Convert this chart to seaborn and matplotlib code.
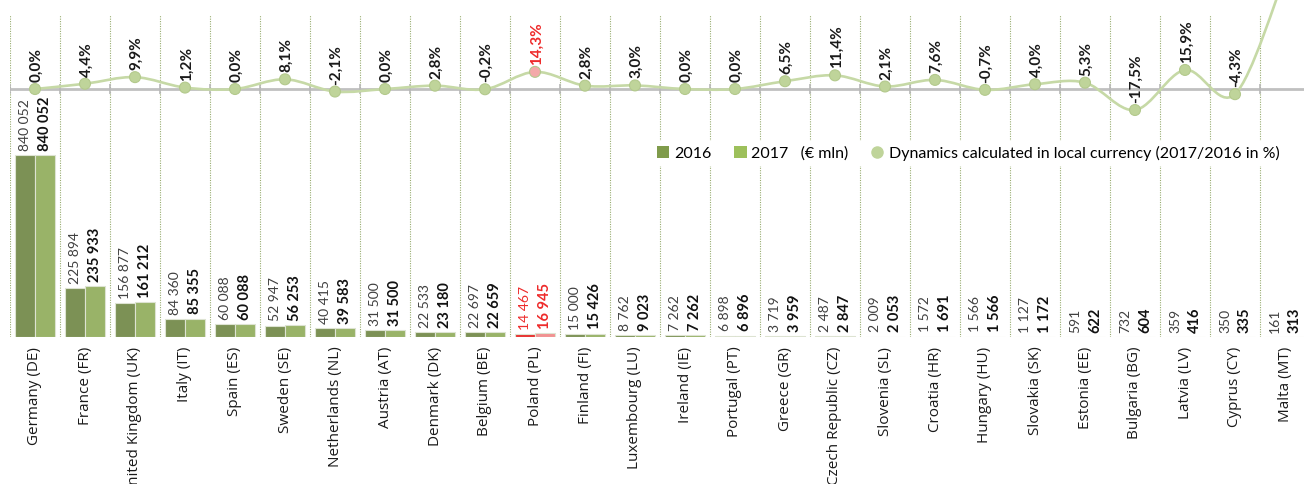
import numpy as np
import pandas as pd
import matplotlib
matplotlib.use("Agg")
import matplotlib.pyplot as plt
import seaborn as sns
from matplotlib.path import Path
from matplotlib.patches import PathPatch, Patch
from matplotlib.lines import Line2D

countries = ["Germany (DE)", "France (FR)", "United Kingdom (UK)", "Italy (IT)", "Spain (ES)",
             "Sweden (SE)", "Netherlands (NL)", "Austria (AT)", "Denmark (DK)", "Belgium (BE)",
             "Poland (PL)", "Finland (FI)", "Luxembourg (LU)", "Ireland (IE)", "Portugal (PT)",
             "Greece (GR)", "Czech Republic (CZ)", "Slovenia (SL)", "Croatia (HR)", "Hungary (HU)",
             "Slovakia (SK)", "Estonia (EE)", "Bulgaria (BG)", "Latvia (LV)", "Cyprus (CY)", "Malta (MT)"]
v2016 = [840052, 225894, 156877, 84360, 60088, 52947, 40415, 31500, 22533, 22697,
         14467, 15000, 8762, 7262, 6898, 3719, 2487, 2009, 1572, 1566,
         1127, 591, 732, 359, 350, 161]
v2017 = [840052, 235933, 161212, 85355, 60088, 56253, 39583, 31500, 23180, 22659,
         16945, 15426, 9023, 7262, 6896, 3959, 2847, 2053, 1691, 1566,
         1172, 622, 604, 416, 335, 313]
dynamics = [0.0, 4.4, 9.9, 1.2, 0.0, 8.1, -2.1, 0.0, 2.8, -0.2,
            14.3, 2.8, 3.0, 0.0, 0.0, 6.5, 11.4, 2.1, 7.6, -0.7,
            4.0, 5.3, -17.5, 15.9, -4.3, 94.4]
years = ["2016", "2017"]
highlight = "Poland (PL)"

C16, C17 = "#7f9b4b", "#9dc05b"
R16, R17 = "#e8302e", "#f29191"
LINE_C, MARK_C = "#c6d9a6", "#bfd49a"
RED_TXT = "#ee2b2b"

W, H = 1304, 484
fig = plt.figure(figsize=(W / 100, H / 100), dpi=100)
ax = fig.add_axes([10 / W, (H - 337) / H, 1300 / W, 322 / H])
ax.set_facecolor("none")

df = pd.DataFrame({"country": countries * 2,
                   "year": [years[0]] * len(countries) + [years[1]] * len(countries),
                   "value": v2016 + v2017})
sns.barplot(data=df, x="country", y="value", hue="year", palette=[C16, C17],
            width=0.8, ax=ax, legend=False, edgecolor="#dde3d2", linewidth=0.8,
            errorbar=None, zorder=2)
ax.set_xlim(-0.5, len(countries) - 0.5)
ax.set_ylim(0, 1486000)

pi = countries.index(highlight)
c0, c1 = ax.containers[0], ax.containers[1]
c0.patches[pi].set_facecolor(R16)
c1.patches[pi].set_facecolor(R17)

fmt = lambda v: f"{v:,}".replace(",", " ")
t16 = ax.bar_label(c0, labels=[fmt(v) for v in v2016], rotation=90, padding=3,
                   fontsize=10, family="Lato", color="#404040")
t17 = ax.bar_label(c1, labels=[fmt(v) for v in v2017], rotation=90, padding=3,
                   fontsize=10.5, family="Lato", fontweight="bold", color="#111111")
t16[pi].set_color(RED_TXT)
t17[pi].set_color(RED_TXT)

for s in ax.spines.values():
    s.set_visible(False)
ax.set_xlabel("")
ax.set_ylabel("")
ax.set_yticks([])
ax.set_xticks(np.arange(-0.5, len(countries), 1), minor=True)
ax.grid(which="minor", axis="x", color="#98ad70", linestyle=(0, (1, 1.2)), linewidth=0.8)
ax.grid(which="major", visible=False)
ax.tick_params(axis="x", which="both", length=0)
ax.tick_params(axis="x", which="major", pad=7)
for lbl in ax.get_xticklabels():
    lbl.set_rotation(90)
    lbl.set_family("Open Sans")
    lbl.set_fontsize(11)
    lbl.set_color("#1a1a1a")
    lbl.set_va("top")
    lbl.set_ha("center")

# secondary axis: dynamics
ax2 = ax.twinx()
ax2.set_ylim(-206.7, 61.7)
ax2.set_yticks([])
for s in ax2.spines.values():
    s.set_visible(False)
ax2.axhline(0, color="#c0c0c0", lw=2, zorder=1)
xs = np.arange(len(countries), dtype=float)
ax2.plot(np.arange(-0.5, len(countries), 1), np.zeros(len(countries) + 1), ls="none",
         marker="|", ms=7, mew=1.2, color="#b8b8b8", zorder=1)

# smoothed (Bezier) line through the data points
ys = np.array(dynamics, dtype=float)
verts = [(xs[0], ys[0])]
codes = [Path.MOVETO]
n = len(xs)
for i in range(n - 1):
    p0 = np.array([xs[max(i - 1, 0)], ys[max(i - 1, 0)]])
    p1 = np.array([xs[i], ys[i]])
    p2 = np.array([xs[i + 1], ys[i + 1]])
    p3 = np.array([xs[min(i + 2, n - 1)], ys[min(i + 2, n - 1)]])
    cA = p1 + (p2 - p0) / 6
    cB = p2 - (p3 - p1) / 6
    verts += [tuple(cA), tuple(cB), tuple(p2)]
    codes += [Path.CURVE4] * 3
curve = PathPatch(Path(verts, codes), facecolor="none", edgecolor=LINE_C, lw=1.9,
                  clip_on=False, zorder=3)
ax2.add_patch(curve)

mcolors = [MARK_C] * n
mcolors[pi] = "#f3a9a9"
sns.scatterplot(x=xs, y=ys, ax=ax2, s=62, color=MARK_C,
                edgecolor="#b3c98c", linewidth=0.8, zorder=4, legend=False)
ax2.collections[-1].set_facecolors(mcolors)

for i, d in enumerate(dynamics):
    ax2.annotate(f"{d:.1f}%".replace(".", ","), (xs[i], d), xytext=(1, 5),
                 textcoords="offset points", rotation=90, ha="center", va="bottom",
                 fontsize=11, fontweight="bold", family="Lato",
                 color=RED_TXT if i == pi else "#1a1a1a", zorder=5)

handles = [Patch(facecolor=C16, edgecolor="none"),
           Patch(facecolor=C17, edgecolor="none"),
           Line2D([], [], ls="none", marker="o", ms=8, color=MARK_C, mec=MARK_C)]
labels = ["2016", "2017   (€ mln)", "Dynamics calculated in local currency (2017/2016 in %)"]
leg = ax2.legend(handles, labels, ncol=3, loc="center", bbox_to_anchor=(968 / W, 1 - 153 / H),
                 bbox_transform=fig.transFigure, frameon=True, facecolor="white",
                 edgecolor="white", fancybox=False, framealpha=1,
                 prop={"family": "Lato", "size": 11.5}, handlelength=0.8,
                 handleheight=0.8, handletextpad=0.3, columnspacing=1.4, borderpad=0.3)
leg.set_zorder(10)

fig.savefig("out.png", dpi=100, facecolor="white")
